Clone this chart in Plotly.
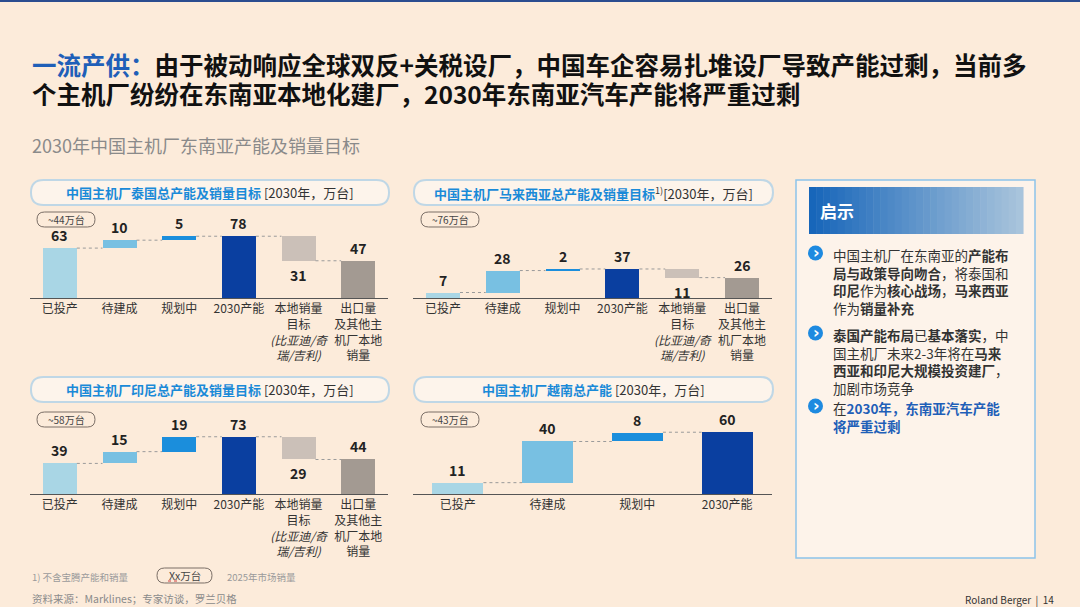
import plotly.graph_objects as go

W, H = 1080, 607

# ---- data ----
cats_full = [
    "已投产", "待建成", "规划中", "2030产能",
    "本地销量<br>目标<br><i>(比亚迪/奇<br>瑞/吉利)</i>",
    "出口量<br>及其他主<br>机厂本地<br>销量",
]
cats_vn = ["已投产", "待建成", "规划中", "2030产能"]

thailand = [63, 10, 5, 78, 31, 47]
malaysia = [7, 28, 2, 37, 11, 26]
indonesia = [39, 15, 19, 73, 29, 44]
vietnam = [11, 40, 8, 60]

market_2025 = ["~44万台", "~76万台", "~58万台", "~43万台"]

panel_titles = [
    "<b><span style='color:#1A8AD8'>中国主机厂泰国总产能及销量目标</span></b> [2030年，万台]",
    "<b><span style='color:#1A8AD8'>中国主机厂马来西亚总产能及销量目标</span></b><sup>1)</sup>[2030年，万台]",
    "<b><span style='color:#1A8AD8'>中国主机厂印尼总产能及销量目标</span></b> [2030年，万台]",
    "<b><span style='color:#1A8AD8'>中国主机厂越南总产能</span></b> [2030年，万台]",
]

bar_colors = ["#A9D6E5", "#78C0E2", "#1B8EDC", "#0A3FA0", "#CBC0B8", "#A39A92"]

FONT = "Noto Sans CJK SC, Noto Sans, sans-serif"


def px(x):
    return x / W


def py(y):
    return 1 - y / H


def txt(x, y, text, size, color, xanchor="center", family=FONT, yanchor="middle"):
    """Paper-positioned text, given in pixels from the top-left corner"""
    return dict(x=px(x), y=py(y), xref="paper", yref="paper", text=text,
                showarrow=False, xanchor=xanchor, yanchor=yanchor, align="left",
                font=dict(size=size, color=color, family=family))


def pill_path(x0, y0, x1, y1, r):
    """Rounded rectangle path, pixel coords in, paper coords out"""
    pts = [
        ("M", [(x0 + r, y0)]), ("L", [(x1 - r, y0)]), ("Q", [(x1, y0), (x1, y0 + r)]),
        ("L", [(x1, y1 - r)]), ("Q", [(x1, y1), (x1 - r, y1)]), ("L", [(x0 + r, y1)]),
        ("Q", [(x0, y1), (x0, y1 - r)]), ("L", [(x0, y0 + r)]), ("Q", [(x0, y0), (x0 + r, y0)]),
    ]
    s = ""
    for cmd, coords in pts:
        s += cmd + " ".join(f"{px(a):.5f},{py(b):.5f}" for a, b in coords) + " "
    return s + "Z"


def waterfall(vals):
    """Bases and connector levels for capacity -> sales waterfall"""
    bases = [0, vals[0], vals[0] + vals[1], 0]
    if len(vals) > 4:
        bases += [vals[3] - vals[4], 0]
    levels = []
    for i in range(len(vals) - 1):
        if i == 4:
            levels.append(bases[4])
        elif i == 2:
            levels.append(vals[3])
        else:
            levels.append(bases[i] + vals[i])
    return bases, levels


fig = go.Figure()
shapes = []
annotations = []

# panel: (values, cats, x0px, x1px, baseline px, y range max, title box y, badge)
panels = [
    (thailand, cats_full, 30, 388, 298, 101, 180, market_2025[0]),
    (malaysia, cats_full, 413, 772, 298, 102, 180, market_2025[1]),
    (indonesia, cats_full, 30, 388, 494, 102, 377, market_2025[2]),
    (vietnam, cats_vn, 413, 772, 494, 77.7, 377, market_2025[3]),
]

bw = 0.57
for k, (vals, cats, x0, x1, base_y, ymax, ty, badge) in enumerate(panels):
    xa = "x" if k == 0 else f"x{k + 1}"
    ya = "y" if k == 0 else f"y{k + 1}"
    n = len(vals)
    bases, levels = waterfall(vals)

    fig.add_trace(go.Bar(
        x=list(range(n)), y=vals, base=bases, width=bw,
        marker=dict(color=bar_colors[:n], line=dict(width=0)),
        xaxis=xa, yaxis=ya, showlegend=False,
    ))
    # dotted connectors
    for i, lv in enumerate(levels):
        fig.add_trace(go.Scatter(
            x=[i + bw / 2, i + 1 - bw / 2], y=[lv, lv], mode="lines",
            line=dict(color="#9A9A9A", width=1, dash="dot"),
            xaxis=xa, yaxis=ya, showlegend=False, hoverinfo="skip",
        ))
    # value labels
    for i, v in enumerate(vals):
        down = (i == 4)
        annotations.append(dict(
            x=i, y=bases[i] if down else bases[i] + v, xref=xa, yref=ya,
            text=f"<b>{v}</b>", showarrow=False, xanchor="center",
            yanchor="top" if down else "bottom", yshift=-2 if down else 1,
            font=dict(size=14, color="#222222", family=FONT)))

    dom_x = [px(x0), px(x1)]
    dom_y = [py(base_y), py(base_y - 80)]
    fig.update_layout(**{
        ("xaxis" if k == 0 else f"xaxis{k + 1}"): dict(
            domain=dom_x, anchor=ya, range=[-0.5, n - 0.5],
            tickmode="array", tickvals=list(range(n)), ticktext=cats,
            showline=True, linecolor="#555555", linewidth=1,
            showgrid=False, zeroline=False, ticks="", fixedrange=True,
            tickfont=dict(size=12, color="#333333", family=FONT),
        ),
        ("yaxis" if k == 0 else f"yaxis{k + 1}"): dict(
            domain=dom_y, anchor=xa, range=[0, ymax], visible=False,
            showgrid=False, zeroline=False, fixedrange=True,
        ),
    })

    # panel title pill
    shapes.append(dict(type="path", path=pill_path(x0 + 1, ty, x1 + 1, ty + 25, 12.5),
                       xref="paper", yref="paper", fillcolor="#FDF4EB",
                       line=dict(color="#BFD7E6", width=2)))
    annotations.append(txt((x0 + x1) / 2 + 1, ty + 12.5, panel_titles[k], 13, "#333333"))
    # 2025 market badge
    bx0 = x0 + 7 if k % 2 == 0 else x0 + 8
    by0 = ty + 32 if k < 2 else ty + 35
    shapes.append(dict(type="path", path=pill_path(bx0, by0, bx0 + 58, by0 + 15, 7.5),
                       xref="paper", yref="paper", fillcolor="rgba(0,0,0,0)",
                       line=dict(color="#7A6E66", width=1)))
    annotations.append(txt(bx0 + 29, by0 + 7.5, badge, 10, "#444444"))

# ---- page header ----
shapes.append(dict(type="rect", x0=0, x1=1, y0=py(2), y1=1, xref="paper", yref="paper",
                   fillcolor="#2B4C8F", line=dict(width=0)))
annotations += [
    txt(30, 65, "<b><span style='color:#1F5FB8'>一流产供：</span>由于被动响应全球双反+关税设厂，中国车企容易扎堆设厂导致产能过剩，当前多</b>",
        24.5, "#111111", "left"),
    txt(30, 93, "<b>个主机厂纷纷在东南亚本地化建厂，2030年东南亚汽车产能将严重过剩</b>",
        24.5, "#111111", "left"),
    txt(30, 145, "2030年中国主机厂东南亚产能及销量目标", 18, "#8A8A8A", "left"),
]

# ---- insight box ----
shapes.append(dict(type="rect", x0=px(796), x1=px(1035), y0=py(558), y1=py(180),
                   xref="paper", yref="paper", fillcolor="#FDF3EA",
                   line=dict(color="#8CC4EA", width=1.5)))
n_strip = 30
for s in range(n_strip):
    t = s / (n_strip - 1)
    r = int(0x17 + (0xA8 - 0x17) * t)
    g = int(0x66 + (0xC4 - 0x66) * t)
    b = int(0xBA + (0xDC - 0xBA) * t)
    sx0 = 809 + (1023 - 809) * s / n_strip
    sx1 = 809 + (1023 - 809) * (s + 1) / n_strip
    shapes.append(dict(type="rect", x0=px(sx0), x1=px(sx1) + 0.0005, y0=py(234), y1=py(187),
                       xref="paper", yref="paper", fillcolor=f"rgb({r},{g},{b})",
                       line=dict(width=0)))
annotations.append(txt(818, 210, "<b>启示</b>", 17, "white", "left"))

bullets = [
    (["中国主机厂在东南亚的<b>产能布</b>",
      "<b>局与政策导向吻合</b>，将泰国和",
      "<b>印尼</b>作为<b>核心战场</b>，<b>马来西亚</b>",
      "作为<b>销量补充</b>"], 253),
    (["<b>泰国产能布局</b>已<b>基本落实</b>，中",
      "国主机厂未来2-3年将在<b>马来</b>",
      "<b>西亚和印尼大规模投资建厂</b>，",
      "加剧市场竞争"], 333),
    (["在<b><span style='color:#1F5FB8'>2030年，东南亚汽车产能</span></b>",
      "<b><span style='color:#1F5FB8'>将严重过剩</span></b>"], 406),
]
for lines, cy in bullets:
    shapes.append(dict(type="circle", x0=px(808), x1=px(823), y0=py(cy + 7.5), y1=py(cy - 7.5),
                       xref="paper", yref="paper", fillcolor="#1E8AE0", line=dict(width=0)))
    annotations.append(txt(816.5, cy - 1, "<b>›</b>", 16, "white", family="DejaVu Sans"))
    annotations.append(txt(831, cy - 10, "<br>".join(lines), 13.5, "#333333", "left",
                           yanchor="top"))

# ---- footer ----
annotations += [
    txt(30, 577, "1) 不含宝腾产能和销量", 9.5, "#9A9A9A", "left"),
    txt(184.5, 575.5, "Xx万台", 10.5, "#444444"),
    txt(225, 577, "2025年市场销量", 9.5, "#9A9A9A", "left"),
    txt(30, 598, "资料来源：Marklines；专家访谈，罗兰贝格", 10.5, "#8A8A8A", "left"),
    txt(1056, 599, "Roland Berger  |  14", 10, "#333333", "right"),
]
shapes.append(dict(type="path", path=pill_path(157, 568, 212, 583, 7.5), xref="paper", yref="paper",
                   fillcolor="rgba(0,0,0,0)", line=dict(color="#7A6E66", width=1)))
shapes.append(dict(type="line", x0=px(168), x1=px(180), y0=py(581), y1=py(581), xref="paper",
                   yref="paper", line=dict(color="#D04040", width=1, dash="dot")))

fig.update_layout(
    width=W, height=H,
    margin=dict(l=0, r=0, t=0, b=0),
    paper_bgcolor="#FCEBDA",
    plot_bgcolor="rgba(0,0,0,0)",
    font=dict(family=FONT),
    bargap=0,
    shapes=shapes,
    annotations=annotations,
    showlegend=False,
)

# page body has a default 8px margin; drop it so the slide fills the window
fig.write_html("out.html", config={"displayModeBar": False},
               post_script="document.body.style.margin='0';")
